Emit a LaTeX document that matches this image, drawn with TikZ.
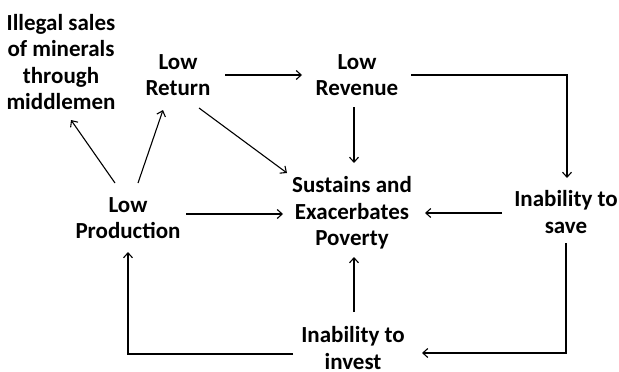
\documentclass[tikz,border=0pt]{standalone}
\usepackage{fontspec}
\setmainfont{Carlito}
\usetikzlibrary{arrows.meta}
\tikzset{
  lbl/.style={font=\bfseries\fontsize{23}{26.5}\selectfont, align=center, inner sep=0pt},
  arr/.style={line width=1.1pt, -{Straight Barb[length=5pt,width=9pt,line width=1.1pt]}}
}
\begin{document}
\begin{tikzpicture}[x=1pt,y=-1pt]
\useasboundingbox[fill=white] (0,0) rectangle (619,372);
\node[lbl] (illegal) at (61,62) {Illegal sales\\of minerals\\through\\middlemen};
\node[lbl] (lowret) at (178,75) {Low\\Return};
\node[lbl] (lowrev) at (357,75) {Low\\Revenue};
\node[lbl] (sust) at (352,213) {Sustains and\\Exacerbates\\Poverty};
\node[lbl] (save) at (566,212) {Inability to\\save};
\node[lbl] (prod) at (128,218) {Low\\Production};
\node[lbl] (invest) at (353,348) {Inability to\\invest};

\draw[arr] ([shift={(-13,-35)}]prod.center) -- ([shift={(10,58)}]illegal.center);
\draw[arr] ([shift={(10,-35)}]prod.center) -- ([shift={(-15,35)}]lowret.center);
\draw[arr] ([shift={(21,33)}]lowret.center) -- ([shift={(-65,-40)}]sust.center);
\draw[arr] ([shift={(47,0)}]lowret.center) -- ([shift={(-55,0)}]lowrev.center);
\draw[arr] ([shift={(-3,32)}]lowrev.center) -- ([shift={(2,-50)}]sust.center);
\draw[arr] ([shift={(54,0)}]lowrev.center) -| ([shift={(1,-34)}]save.center);
\draw[arr] ([shift={(58,-4)}]prod.center) -- ([shift={(-69,1)}]sust.center);
\draw[arr] ([shift={(-64,1)}]save.center) -- ([shift={(73,0)}]sust.center);
\draw[arr] ([shift={(0,31)}]save.center) |- ([shift={(69,5)}]invest.center);
\draw[arr] ([shift={(1,-36)}]invest.center) -- ([shift={(2,44)}]sust.center);
\draw[arr] ([shift={(-60,6)}]invest.center) -| ([shift={(0,34)}]prod.center);
\end{tikzpicture}
\end{document}
